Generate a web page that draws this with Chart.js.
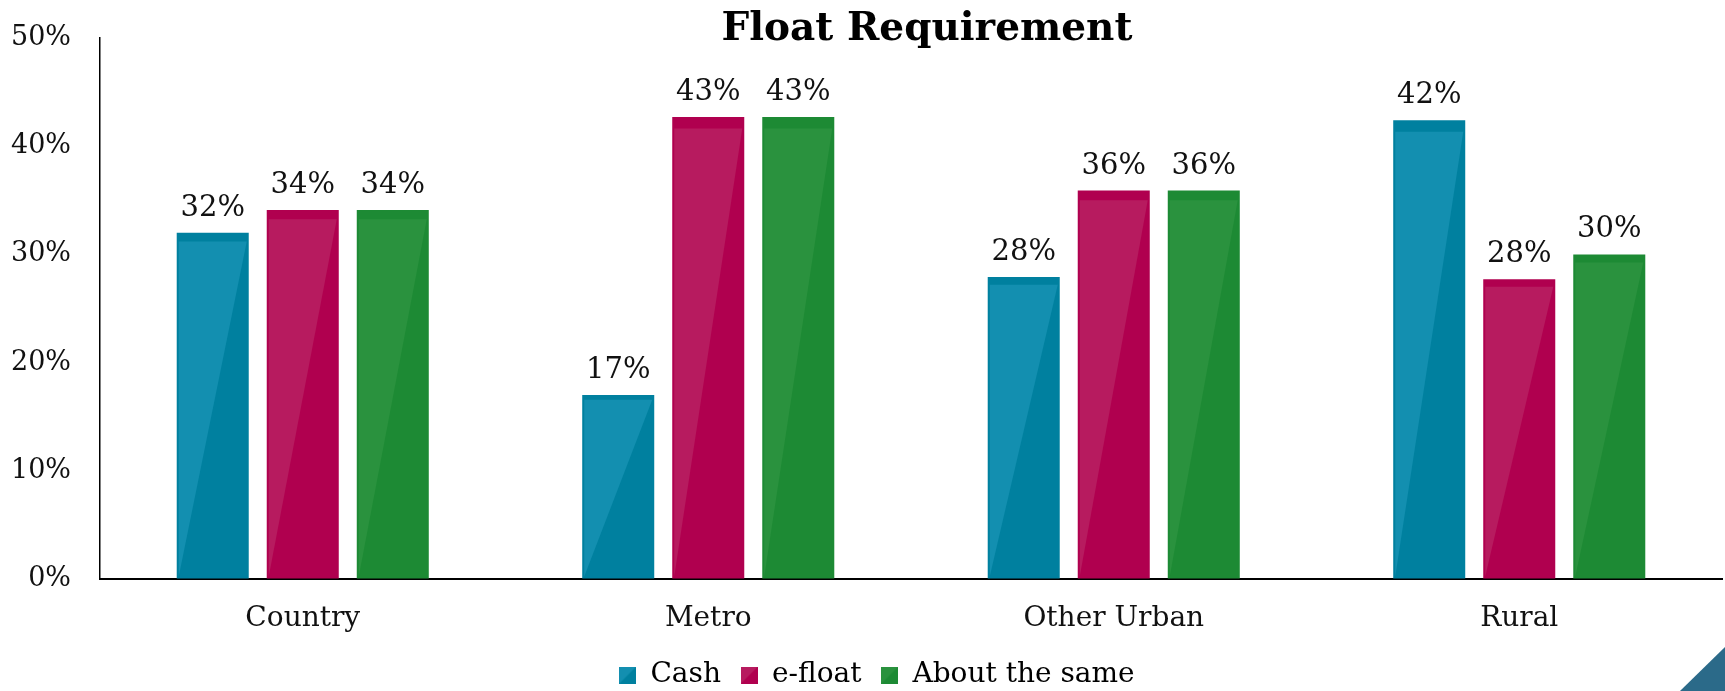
<!DOCTYPE html>
<html>
<head>
<meta charset="utf-8">
<title>Float Requirement</title>
<script src="https://cdn.jsdelivr.net/npm/chart.js@4"></script>
<style>
  html, body { margin: 0; padding: 0; background: #fff; }
  #wrap { position: relative; width: 1725px; height: 691px; overflow: hidden; }
  #corner {
    position: absolute; right: 0; bottom: 0; width: 45px; height: 44px;
    background: #2b6a89; clip-path: polygon(100% 0, 100% 100%, 0 100%);
  }
</style>
</head>
<body>
<div id="wrap">
  <canvas id="myChart" width="1725" height="691"></canvas>
  <div id="corner"></div>
</div>
<script>
const chartTitle = 'Float Requirement'
const categories = ['Country', 'Metro', 'Other Urban', 'Rural']
const seriesNames = ['Cash', 'e-float', 'About the same']
const cashValues = [32.0, 17.0, 27.9, 42.4]
const efloatValues = [34.1, 42.7, 35.9, 27.7]
const sameValues = [34.1, 42.7, 35.9, 30.0]
const yTicks = [0, 10, 20, 30, 40, 50]

const darkColors = ['#00809f', '#b0004f', '#1d8a34']
const lightColors = ['#138fb0', '#b71b5f', '#2a923e']
const serif = '"DejaVu Serif", Georgia, serif'

// small two-tone square used as legend marker
function legendSwatch(i) {
  const c = document.createElement('canvas')
  c.width = 17
  c.height = 17
  const g = c.getContext('2d')
  g.fillStyle = darkColors[i]
  g.fillRect(0, 0, 17, 17)
  g.fillStyle = lightColors[i]
  g.beginPath()
  g.moveTo(0, 0)
  g.lineTo(17, 0)
  g.lineTo(0, 17)
  g.closePath()
  g.fill()
  return c
}
const swatches = [0, 1, 2].map(legendSwatch)

// glossy overlay + value labels on each bar
const barDecor = {
  id: 'barDecor',
  afterLayout(chart) {
    // legend sits a little right of the canvas centre
    chart.legend.left += 16
    chart.legend.right += 16
  },
  afterDatasetsDraw(chart) {
    const ctx = chart.ctx
    chart.data.datasets.forEach((ds, i) => {
      chart.getDatasetMeta(i).data.forEach((bar, j) => {
        const p = bar.getProps(['x', 'y', 'base', 'width'], true)
        const left = p.x - p.width / 2
        const right = p.x + p.width / 2
        const h = p.base - p.y
        const strip = Math.max(4, h * 0.025)
        ctx.save()
        ctx.fillStyle = lightColors[i]
        ctx.beginPath()
        ctx.moveTo(left + 2, p.y + strip)
        ctx.lineTo(right - 2, p.y + strip)
        ctx.lineTo(left + 2, p.base - 2)
        ctx.closePath()
        ctx.fill()

        ctx.fillStyle = '#111'
        ctx.font = '29px ' + serif
        ctx.textAlign = 'center'
        ctx.textBaseline = 'alphabetic'
        ctx.fillText(Math.round(ds.data[j]) + '%', p.x, p.y - 17)
        ctx.restore()
      })
    })
  },
  afterDraw(chart) {
    const ctx = chart.ctx
    ctx.save()
    ctx.fillStyle = '#000'
    ctx.font = 'bold 39px ' + serif
    ctx.textAlign = 'center'
    ctx.textBaseline = 'alphabetic'
    ctx.fillText(chartTitle, 927, 40)
    ctx.restore()
  }
}

const allValues = [cashValues, efloatValues, sameValues]

const ctx = document.getElementById('myChart')
new Chart(ctx, {
  type: 'bar',
  data: {
    labels: categories,
    datasets: seriesNames.map((name, i) => ({
      label: name,
      data: allValues[i],
      backgroundColor: darkColors[i],
      borderWidth: 0,
      categoryPercentage: 0.666,
      barPercentage: 0.8
    }))
  },
  plugins: [barDecor],
  options: {
    responsive: false,
    animation: false,
    layout: { padding: { top: 38, right: 3, bottom: -8, left: 0 } },
    plugins: {
      tooltip: { enabled: false },
      legend: {
        position: 'bottom',
        labels: {
          color: '#111',
          font: { family: serif, size: 28 },
          padding: 20,
          usePointStyle: true,
          boxWidth: 17,
          boxHeight: 17,
          generateLabels: chart => chart.data.datasets.map((ds, i) => ({
            text: ds.label,
            pointStyle: swatches[i],
            fillStyle: darkColors[i],
            strokeStyle: darkColors[i],
            lineWidth: 0,
            hidden: false,
            datasetIndex: i
          }))
        }
      }
    },
    scales: {
      x: {
        grid: { display: false, drawTicks: false },
        border: { display: true, color: '#000', width: 2 },
        ticks: { color: '#111', font: { family: serif, size: 28 }, padding: 23 },
        afterFit: s => { s.height = 62 }
      },
      y: {
        min: 0,
        max: 50,
        grid: { display: true, drawOnChartArea: false, drawTicks: true, tickLength: 23, color: 'rgba(0,0,0,0)' },
        border: { display: true, color: '#000', width: 1.5 },
        ticks: {
          color: '#111',
          font: { family: serif, size: 27 },
          padding: 6,
          callback: v => v + '%'
        },
        afterBuildTicks: s => { s.ticks = yTicks.map(v => ({ value: v })) },
        afterFit: s => { s.width = 100 }
      }
    }
  }
})
</script>
</body>
</html>
